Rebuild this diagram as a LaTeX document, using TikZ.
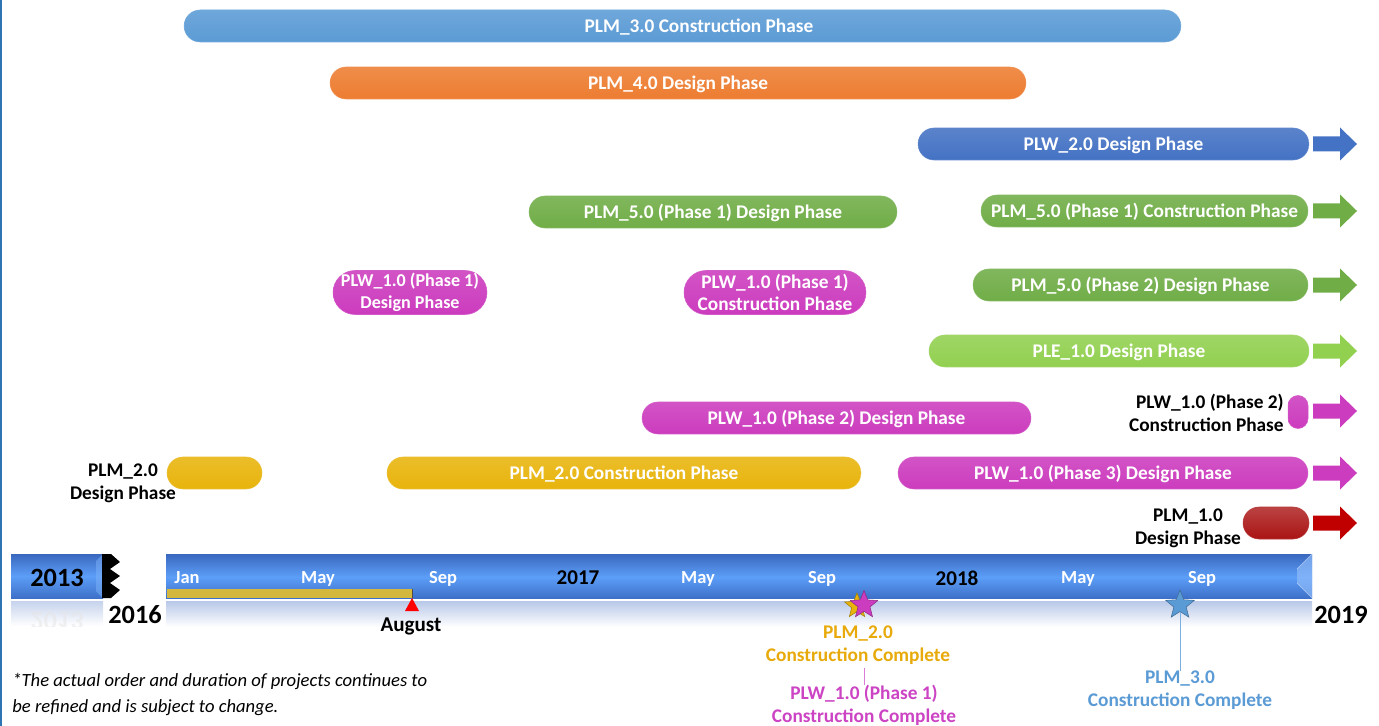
\documentclass[tikz,border=0pt]{standalone}
\usepackage{fontspec}
\setmainfont{Carlito}
\usetikzlibrary{shapes.geometric,calc}
\definecolor{cLb}{RGB}{91,155,213}
\definecolor{cOr}{RGB}{237,125,49}
\definecolor{cBl}{RGB}{68,114,196}
\definecolor{cGr}{RGB}{112,173,71}
\definecolor{cLg}{RGB}{146,208,80}
\definecolor{cMg}{RGB}{204,60,190}
\definecolor{cGo}{RGB}{232,180,12}
\definecolor{cRd}{RGB}{192,0,0}
\definecolor{cRdP}{RGB}{170,20,20}
\definecolor{tlTop}{RGB}{58,104,190}
\definecolor{tlMid}{RGB}{92,158,248}
\definecolor{tlBot}{RGB}{62,112,200}
\definecolor{tlRef}{RGB}{184,200,232}
\definecolor{goldTxt}{RGB}{232,170,10}
\definecolor{mgTxt}{RGB}{204,68,196}
\definecolor{progGold}{RGB}{212,184,62}
\definecolor{edgeBlue}{RGB}{46,117,182}
\newcommand\barfont{\bfseries\fontsize{11}{13}\selectfont}
\newcommand\tallbarfont{\bfseries\fontsize{11}{12.5}\selectfont}
\newcommand\smallbarfont{\bfseries\fontsize{10.3}{12.2}\selectfont}
\newcommand\monthfont{\bfseries\fontsize{10.5}{12}\selectfont}
\newcommand\bigyearfont{\bfseries\fontsize{15}{18}\selectfont}
\newcommand\midyearfont{\bfseries\fontsize{12}{14}\selectfont}
\newcommand\notefont{\itshape\fontsize{10.6}{14.8}\selectfont}
\tikzset{
  pill/.style={rounded corners=0.32cm, minimum height=0.64cm, inner sep=0pt,
    text=white, font=\barfont, align=center, text height=8pt, text depth=1pt,
    top color=#1!88!white, bottom color=#1, draw=#1!85!white, line width=0.3pt},
  tallpill/.style={pill=#1, rounded corners=0.44cm, minimum height=0.88cm,
    text height={}, text depth={}, font=\tallbarfont},
  pilltext/.style={text=white, font=\barfont, inner sep=0pt, text height=8pt, text depth=1pt},
  sidelabel/.style={font=\barfont, align=center, inner sep=0pt, text=black},
  monthlab/.style={text=white, font=\monthfont, inner sep=0pt, text height=7.5pt, text depth=0.5pt},
  yearlab/.style={text=black, inner sep=0pt},
  milelab/.style={font=\barfont, align=center, inner sep=0pt},
  mstar/.style={star, star points=5, star point ratio=2.3, inner sep=0pt,
    fill=#1, draw=#1!70!black, line width=0.3pt},
  blockarrow/.pic={\fill[pic actions] (0,-7.5) -- (27,-7.5) -- (27,-16.5) -- (44,0)
    -- (27,16.5) -- (27,7.5) -- (0,7.5) -- cycle;}
}
\begin{document}
\begin{tikzpicture}[x=0.02cm, y=-0.02cm]
\useasboundingbox (0,0) rectangle (1379,726);
\fill[white] (0,0) rectangle (1379,726);
\fill[edgeBlue] (0,0) rectangle (2,726);

% ---- bars ----
\node[pill=cLb, minimum width=19.94cm] (plm30c) at (682.5,26) {};
\node[pilltext] (plm30ct) at (699,26) {PLM\_3.0 Construction Phase};
\node[pill=cOr, minimum width=13.92cm] (plm40d) at (678,83) {PLM\_4.0 Design Phase};
\node[pill=cBl, minimum width=7.82cm] (plw20d) at (1113.5,144) {PLW\_2.0 Design Phase};
\node[pill=cGr, minimum width=7.36cm] (plm51d) at (713,212) {PLM\_5.0 (Phase 1) Design Phase};
\node[pill=cGr, minimum width=6.54cm] (plm51c) at (1144.5,211) {PLM\_5.0 (Phase 1) Construction Phase};
\node[tallpill=cMg, minimum width=3.08cm, font=\smallbarfont] (plw11d) at (410,292.5) {PLW\_1.0 (Phase 1)\\Design Phase};
\node[tallpill=cMg, minimum width=3.64cm] (plw11c) at (775,292.5) {PLW\_1.0 (Phase 1)\\Construction Phase};
\node[pill=cGr, minimum width=6.7cm] (plm52d) at (1140.5,285) {PLM\_5.0 (Phase 2) Design Phase};
\node[pill=cLg, minimum width=7.6cm] (ple10d) at (1119,351) {PLE\_1.0 Design Phase};
\node[pill=cMg, minimum width=7.78cm] (plw12d) at (836.5,418) {PLW\_1.0 (Phase 2) Design Phase};
\node[pill=cMg, minimum width=0.4cm, minimum height=0.66cm, rounded corners=0.2cm] (plw12c) at (1298,412) {};
\node[pill=cGo, minimum width=1.9cm] (plm20d) at (214.5,473) {};
\node[pill=cGo, minimum width=9.48cm] (plm20c) at (624,473) {PLM\_2.0 Construction Phase};
\node[pill=cMg, minimum width=8.2cm] (plw13d) at (1103,473) {PLW\_1.0 (Phase 3) Design Phase};
\node[pill=cRdP, minimum width=1.32cm, top color=cRdP!80!white] (plm10d) at (1276,523) {};

% side labels
\node[sidelabel, align=right, anchor=east] (plw12cl) at (1284,413) {PLW\_1.0 (Phase 2)\\Construction Phase};
\node[sidelabel] (plm20dl) at (123,483.5) {PLM\_2.0\\Design Phase};
\node[sidelabel] (plm10dl) at (1188,528) {PLM\_1.0\\Design Phase};

% continuation arrows
\pic[fill=cBl] at (1313,144) {blockarrow};
\pic[fill=cGr] at (1313,211) {blockarrow};
\pic[fill=cGr] at (1313,285) {blockarrow};
\pic[fill=cLg] at (1313,351) {blockarrow};
\pic[fill=cMg] at (1313,411) {blockarrow};
\pic[fill=cMg] at (1313,473) {blockarrow};
\pic[fill=cRd] at (1313,523) {blockarrow};

% ---- timeline ----
% 2013 box
\shade[top color=tlTop, bottom color=tlMid] (11,554) rectangle (103,576);
\shade[top color=tlMid, bottom color=tlBot] (11,576) rectangle (103,598);
\fill[tlMid!80!white, opacity=0.5] (103,554) -- (96,561) -- (96,591) -- (103,598) -- cycle;
\node[yearlab, font=\bigyearfont] (y2013) at (57,578) {2013};
\shade[top color=tlRef!80!white, bottom color=white] (11,601) rectangle (103,626);
\begin{scope}
\clip (11,601) rectangle (103,626);
\node[yearlab, font=\bigyearfont, text=black!10, opacity=0.5, yscale=-1] (y2013r) at (57,621) {2013};
\end{scope}
\fill[black] (102,554) -- (111,554) -- (120,562) -- (110,569) -- (120,576) -- (110,583)
  -- (120,590) -- (111,598) -- (102,598) -- cycle;
\node[yearlab, font=\bigyearfont] (y2016) at (135,615) {2016};
\node[yearlab, font=\bigyearfont] (y2019) at (1341,615) {2019};

% main bar
\shade[top color=tlTop, bottom color=tlMid] (166,554) rectangle (1312,577);
\shade[top color=tlMid, bottom color=tlBot] (166,577) rectangle (1312,598);
\fill[tlMid!70!white, opacity=0.7] (1312,554) -- (1297,569) -- (1297,583) -- (1312,598) -- cycle;
\draw[white, opacity=0.5, line width=0.3pt] (1312,554) -- (1297,569) (1312,598) -- (1297,583);
\shade[top color=tlRef, bottom color=white] (166,601) rectangle (1312,627);

% progress
\fill[progGold] (167,589) rectangle (412,598);
\draw[black!70, line width=0.5pt] (412,589) -- (412,598);
\fill[red] (412,598) -- (419,611) -- (405,611) -- cycle;
\node[yearlab, font=\midyearfont] (aug) at (411,626) {August};

% month labels
\node[monthlab] (m1) at (187,577) {Jan};
\node[monthlab] (m2) at (318,577) {May};
\node[monthlab] (m3) at (443,577) {Sep};
\node[yearlab, font=\midyearfont] (y2017) at (578,578) {2017};
\node[monthlab] (m4) at (698,577) {May};
\node[monthlab] (m5) at (822,577) {Sep};
\node[yearlab, font=\midyearfont] (y2018) at (957,578) {2018};
\node[monthlab] (m6) at (1078,577) {May};
\node[monthlab] (m7) at (1202,577) {Sep};

% milestones
\node[mstar=cGo, minimum size=0.52cm] (sgold) at (857,606) {};
\node[mstar=cMg, minimum size=0.58cm] (smag) at (864,605) {};
\node[mstar=cLb, minimum size=0.6cm] (sblue) at (1180,605) {};

\node[milelab, text=goldTxt] (lgold) at (858,645.5) {PLM\_2.0\\Construction Complete};
\node[milelab, text=mgTxt] (lmag) at (864,705) {PLW\_1.0 (Phase 1)\\Construction Complete};
\node[milelab, text=cLb] (lblue) at (1180,690.5) {PLM\_3.0\\Construction Complete};

\draw[mgTxt!70!white, line width=0.4pt] (lgold.south -| smag) ++(0,3) -- (lmag.north -| smag);
\draw[cLb!80!white, line width=0.5pt] (sblue.south) -- (lblue.north);

% footnote
\node[anchor=west, align=left, font=\notefont, inner sep=0pt] (note) at (12,694)
  {*The actual order and duration of projects continues to\\be refined and is subject to change.};
\end{tikzpicture}
\end{document}
